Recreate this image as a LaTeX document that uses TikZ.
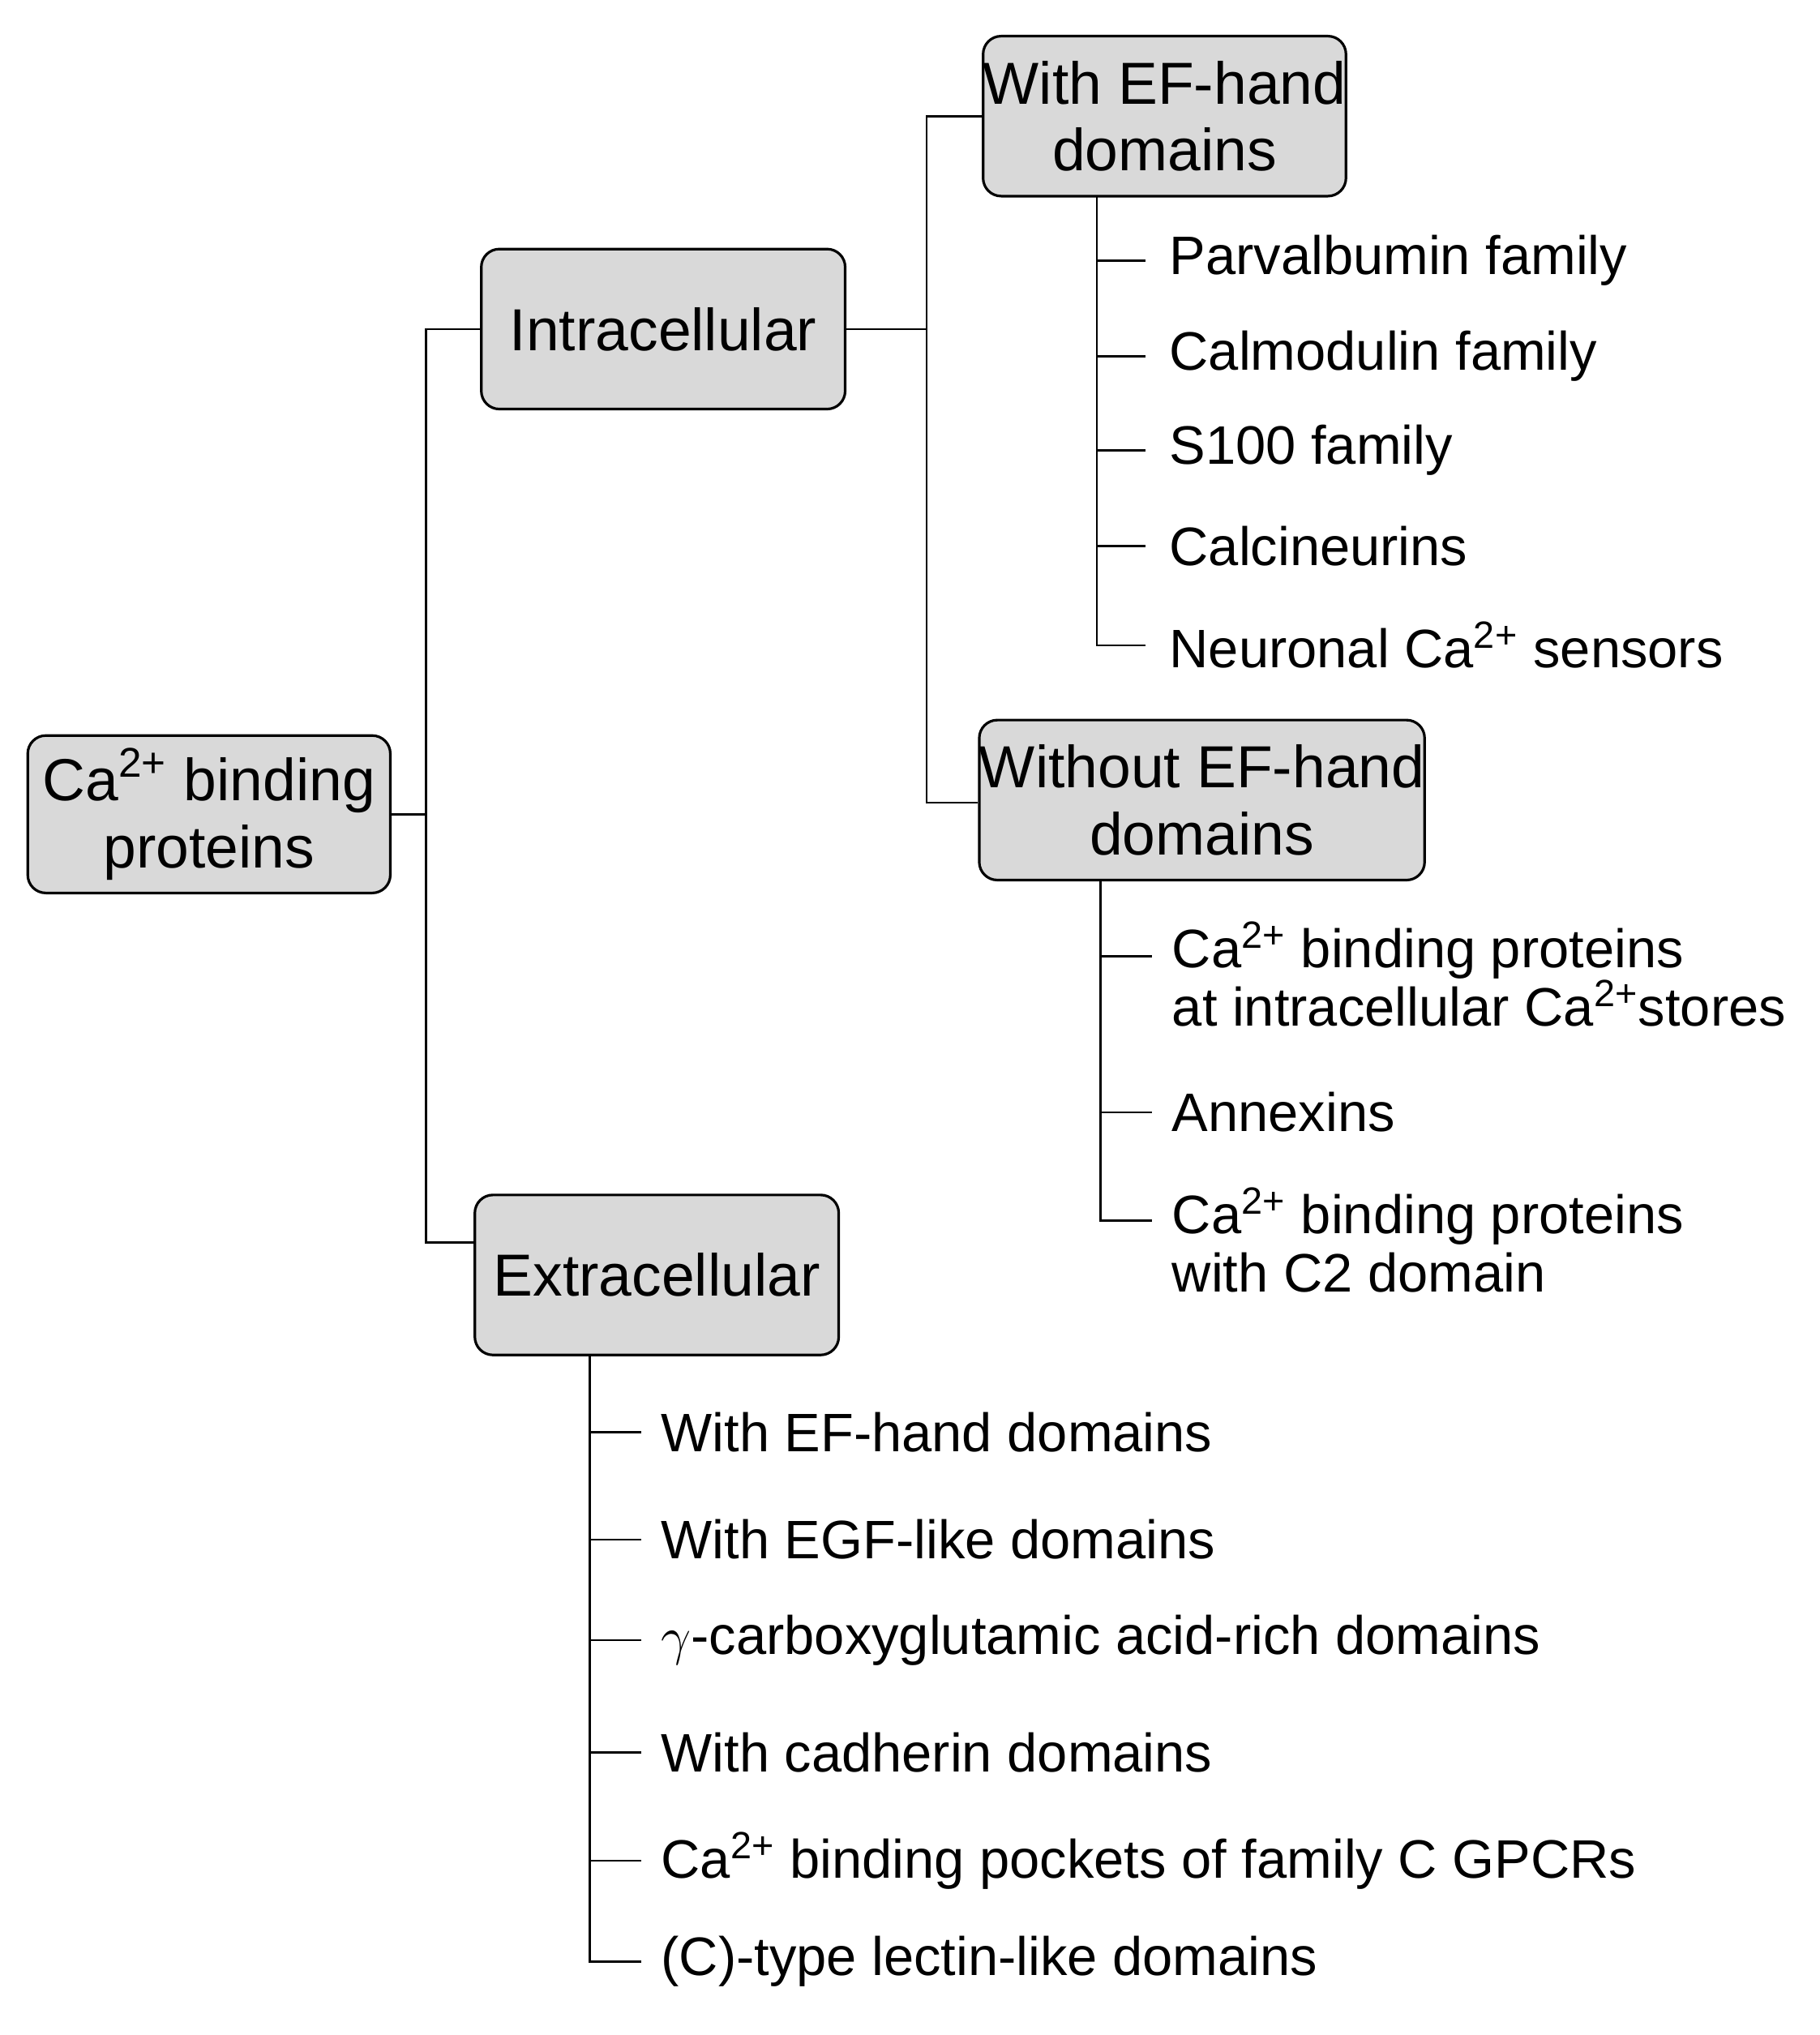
\documentclass[tikz,border=0pt]{standalone}
\usepackage{fontspec}
\setmainfont{Liberation Sans}
\begin{document}
\begin{tikzpicture}[x=0.5pt,y=-0.5pt,
 box/.style={draw,line width=1pt,fill=black!15,rounded corners=7pt,align=center,font=\fontsize{23}{26}\selectfont,inner sep=0pt},
 item/.style={anchor=west,font=\fontsize{21}{23}\selectfont,inner sep=0pt},
 item2/.style={anchor=north west,align=left,font=\fontsize{21}{22.5}\selectfont,inner sep=0pt},
 ln/.style={line width=0.8pt}]
\useasboundingbox (0,0) rectangle (1410,1577);
\node[box,minimum width=140.5pt,minimum height=61pt] (root) at (162,631) {Ca\textsuperscript{2+} binding\\proteins};
\node[box,minimum width=141pt,minimum height=62pt] (intra) at (514,255) {Intracellular};
\node[box,minimum width=141pt,minimum height=62pt] (extra) at (509,988) {Extracellular};
\node[box,minimum width=140.5pt,minimum height=62pt] (ef) at (902.5,90) {With EF-hand\\domains};
\node[box,minimum width=169.5pt,minimum height=62pt] (nef) at (931.5,620) {Without EF-hand\\domains};
% root connectors
\coordinate (j1) at (330,631);
\draw[ln] (root.east) -- (j1);
\draw[ln] (intra.west) -- (330,255) -- (330,963) -- (extra.west |- 0,963);
\coordinate (j2) at (718,255);
\draw[ln] (intra.east) -- (j2);
\draw[ln] (ef.west) -- (718,90) -- (718,622) -- (nef.west |- 0,622);
% EF list
\draw[ln] (850,152) -- (850,500) -- (888,500);
\foreach \y in {202,276,349,423} \draw[ln] (850,\y) -- (888,\y);
\node[item] (e1) at (906,202) {Parvalbumin family};
\node[item] (e2) at (906,276) {Calmodulin family};
\node[item] (e3) at (906,349) {S100 family};
\node[item] (e4) at (906,423) {Calcineurins};
\node[item] (e5) at (906,500) {Neuronal Ca\textsuperscript{2+} sensors};
% Without list
\draw[ln] (853,682) -- (853,946) -- (893,946);
\foreach \y in {741,862} \draw[ln] (853,\y) -- (893,\y);
\node[item2] (n1) at (908,714) {Ca\textsuperscript{2+} binding proteins\\at intracellular Ca\textsuperscript{2+}stores};
\node[item] (n2) at (908,862) {Annexins};
\node[item2] (n3) at (908,920) {Ca\textsuperscript{2+} binding proteins\\with C2 domain};
% Extra list
\draw[ln] (457,1050) -- (457,1520) -- (497,1520);
\foreach \y in {1110,1193,1271,1358,1442} \draw[ln] (457,\y) -- (497,\y);
\node[item] (x1) at (512,1110) {With EF-hand domains};
\node[item] (x2) at (512,1193) {With EGF-like domains};
\node[item] (x3) at (512,1271) {$\gamma$-carboxyglutamic acid-rich domains};
\node[item] (x4) at (512,1358) {With cadherin domains};
\node[item] (x5) at (512,1442) {Ca\textsuperscript{2+} binding pockets of family C GPCRs};
\node[item] (x6) at (512,1520) {(C)-type lectin-like domains};
\end{tikzpicture}
\end{document}
